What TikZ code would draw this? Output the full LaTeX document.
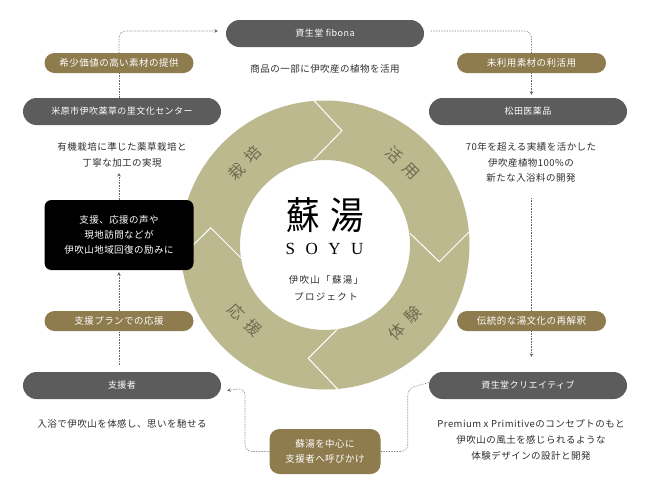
\documentclass[tikz,border=0pt]{standalone}
\usepackage{fontspec}
\usepackage{xcolor}
\setmainfont[LetterSpace=5]{Noto Sans CJK JP}
\newfontfamily\ringfont[LetterSpace=45]{Noto Sans CJK JP}
\newfontfamily\logofont{Noto Sans CJK JP}
\newfontfamily\soyufont[LetterSpace=62]{Liberation Serif}
\usetikzlibrary{arrows.meta}

\definecolor{ringtone}{HTML}{BDB98F}
\definecolor{ringtext}{HTML}{6E6B4F}
\definecolor{pillgray}{HTML}{5C5C5C}
\definecolor{pillbrown}{HTML}{8E7B4E}
\definecolor{bodytext}{HTML}{2E2E2E}
\definecolor{flowgray}{HTML}{666666}

\tikzset{
  namepill/.style={fill=pillgray, text=white, rounded corners=13.5pt, minimum width=198pt, minimum height=27pt, inner sep=0pt, font=\fontsize{9}{12}\selectfont},
  termpill/.style={fill=pillbrown, text=white, rounded corners=10pt, minimum width=149pt, minimum height=20pt, inner sep=0pt, font=\fontsize{9.5}{12}\selectfont},
  notetext/.style={text=bodytext, align=center, inner sep=0pt, font=\fontsize{9.5}{15.7}\selectfont},
  ringlabel/.style={text=ringtext, inner sep=0pt, font=\ringfont\fontsize{16}{18}\selectfont},
  flowline/.style={flowgray, densely dotted, line width=0.6pt, rounded corners=7pt},
  flowarrow/.style={flowline, -{Stealth[length=3.5pt,width=3.5pt]}}
}

\begin{document}
\begin{tikzpicture}[x=1pt, y=-1pt]

  \useasboundingbox (0,0) rectangle (650,488);

  % ring and its chevrons
  \fill[ringtone, even odd rule] (325,245) circle (144.5pt) (325,245) circle (85pt);
  \draw[white, line width=1pt] (311.7,98) -- (342,130.7) -- (313.3,160);
  \draw[white, line width=1pt] (471,230) -- (439.3,261.7) -- (410,233.3);
  \draw[white, line width=1pt] (337.7,329) -- (308.3,358.3) -- (338.5,390);
  \draw[white, line width=1pt] (241,258) -- (210.7,227.7) -- (180,258);

  \node[ringlabel, rotate=45] (saibai) at (245,163) {栽培};
  \node[ringlabel, rotate=-45] (katsuyo) at (403,163) {活用};
  \node[ringlabel, rotate=45] (taiken) at (405,323) {体験};
  \node[ringlabel, rotate=-45] (oen) at (245,320) {応援};

  % centre
  \node[text=black, inner sep=0pt, xscale=0.88, font=\logofont\fontsize{38}{40}\selectfont] (sokanji) at (303.5,215) {蘇};
  \node[text=black, inner sep=0pt, xscale=0.88, font=\logofont\fontsize{38}{40}\selectfont] (yukanji) at (347,215) {湯};
  \node[text=black, inner sep=0pt, font=\soyufont\fontsize{17}{20}\selectfont] (soyu) at (324.5,249) {SOYU};
  \node[notetext, font=\addfontfeature{LetterSpace=14}\fontsize{9.5}{16.7}\selectfont] (project) at (326,288.5) {伊吹山「蘇湯」\\プロジェクト};

  % names
  \node[namepill] (fibona) at (325,33.5) {資生堂 fibona};
  \node[namepill] (satocenter) at (122,111.5) {米原市伊吹薬草の里文化センター};
  \node[namepill] (matsuda) at (528,111.5) {松田医薬品};
  \node[namepill] (shienusha) at (122,385.5) {支援者};
  \node[namepill] (creative) at (528,385.5) {資生堂クリエイティブ};

  % terms
  \node[termpill] (teikyo) at (119,63) {希少価値の高い素材の提供};
  \node[termpill] (riyo) at (531.5,63) {未利用素材の利活用};
  \node[termpill] (oenplan) at (119,321) {支援プランでの応援};
  \node[termpill] (saikaishaku) at (531.5,321) {伝統的な湯文化の再解釈};
  \node[termpill, minimum width=111pt, minimum height=45pt] (yobikake) at (325,451.5) [align=center, font=\fontsize{9.5}{15.5}\selectfont] {蘇湯を中心に\\支援者へ呼びかけ};

  \node[fill=black, text=white, rounded corners=7pt, minimum width=149pt, minimum height=70pt, inner sep=0pt, align=center, font=\fontsize{9.5}{15.3}\selectfont] (kaifuku) at (119,235) {支援、応援の声や\\現地訪問などが\\伊吹山地域回復の励みに};

  % notes
  \node[notetext] (shokuhin) at (325,69) {商品の一部に伊吹産の植物を活用};
  \node[notetext] (yuki) at (122,155) {有機栽培に準じた薬草栽培と\\丁寧な加工の実現};
  \node[notetext] (jisseki) at (531,162.5) {70年を超える実績を活かした\\伊吹産植物100\%の\\新たな入浴料の開発};
  \node[notetext] (nyuyoku) at (122,424.3) {入浴で伊吹山を体感し、思いを馳せる};
  \node[notetext] (premium) at (531,440) {Premium x Primitiveのコンセプトのもと\\伊吹山の風土を感じられるような\\体験デザインの設計と開発};

  % free ends
  \coordinate (yukiend) at (119,173);
  \coordinate (jissekiend) at (531.5,198);

  % flow
  \draw[flowline] (satocenter.north -| teikyo) -- (teikyo.south);
  \draw[flowarrow] (teikyo.north) |- ([xshift=-8pt,yshift=2.5pt]fibona.west);
  \draw[flowline] ([xshift=7pt,yshift=2.5pt]fibona.east) -| (riyo.north);
  \draw[flowarrow] (riyo.south) -- ([yshift=3pt]matsuda.north -| riyo);
  \draw[flowline] (jissekiend) -- (saikaishaku.north);
  \draw[flowarrow] (saikaishaku.south) -- ([yshift=15pt]creative.north -| saikaishaku);
  \draw[flowline] ([yshift=3pt]creative.west) -- (407.7,388.5) -- (407.7,451.5) -- (yobikake.east);
  \draw[flowarrow] (yobikake.west) -- (245,451.5) -- (245,388) -- ([xshift=6pt,yshift=-2.5pt]shienusha.east |- 0,388);
  \draw[flowline] ([yshift=7pt]shienusha.north -| oenplan) -- (oenplan.south);
  \draw[flowarrow] (oenplan.north) -- ([yshift=-2pt]kaifuku.south);
  \draw[flowarrow] (kaifuku.north) -- (yukiend);

\end{tikzpicture}
\end{document}
